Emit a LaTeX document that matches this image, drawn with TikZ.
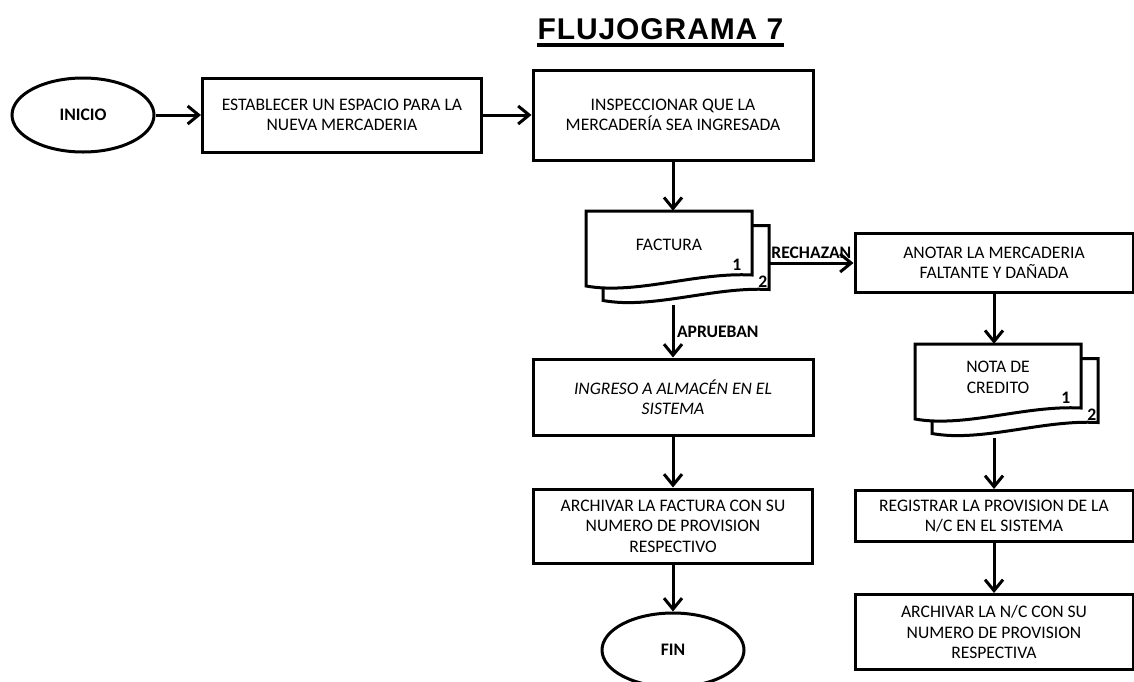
\documentclass[tikz,border=0pt]{standalone}
\usepackage{fontspec}
\setmainfont{Carlito}
\newfontfamily\arial[LetterSpace=3]{Liberation Sans}
\usetikzlibrary{arrows.meta,shapes.geometric,positioning}
\newcommand{\texto}{\fontsize{17.6}{20.5}\selectfont}
\tikzstyle{caja}=[draw, line width=3pt, align=center, font=\texto,
  inner sep=3pt]
\tikzstyle{terminal}=[caja, ellipse, minimum width=142pt,
  minimum height=74pt, font=\texto\bfseries]
\tikzstyle{hoja}=[draw, line width=3pt, fill=white, line join=miter]
\tikzstyle{linea}=[draw, line width=3pt,
  -{Straight Barb[length=11pt,width=18pt]}]
\tikzstyle{etiqueta}=[font=\texto\bfseries, inner sep=2.5pt]
\tikzstyle{num}=[font=\texto\bfseries, inner sep=0pt]
\newcommand{\paso}[4]{node (#1) [caja, minimum width=#2pt,
  minimum height=#3pt] {#4}}
% contorno de una hoja con borde ondulado
\newcommand{\pagina}{(0,0) -- (166,0) -- (166,-64)
  .. controls (110,-61) and (50,-84) .. (0,-75) -- cycle}
\newcommand{\documento}[3]{%
  \begin{scope}[shift={#2}]
    % hoja de atras
    \path[hoja, shift={(17,-14.5)}] \pagina;
    % hoja de adelante
    \path[hoja] \pagina;
  \end{scope}
  \path #2+(83,-37.5) node (#1) [minimum width=166pt,
    minimum height=75pt, inner sep=0pt] {};
  \path (#1.center)+(0,4) node (#1-t) [font=\texto, align=center] {#3};
  \path (#1.north east)+(-15.5,-54) node (#1-1) [num] {1};
  \path (#1.north east)+(10.5,-70.5) node (#1-2) [num] {2};
  \coordinate (#1-e) at ([xshift=17pt]#1.east);
  \coordinate (#1-s) at ([shift={(17pt,-19pt)}]#1.south west);}

\begin{document}
\begin{tikzpicture}[x=1pt,y=1pt]
  \useasboundingbox (0,0) rectangle (1134,-681);

  % titulo
  \path (660.5,-39) node (titulo) [anchor=base, inner sep=0pt,
    font=\arial\bfseries\fontsize{30}{30}\selectfont] {FLUJOGRAMA 7};
  \draw[line width=4pt] ([yshift=-6pt]titulo.base west) --
    ([yshift=-6pt]titulo.base east);

  % fila superior
  \path (83,-115) node (inicio) [terminal] {INICIO};
  \path (342,-115) \paso{b1}{279}{74}{ESTABLECER UN ESPACIO PARA LA\\
    NUEVA MERCADERIA};
  \path (673,-115) \paso{b2}{280}{90}{INSPECCIONAR QUE LA\\
    MERCADERÍA SEA INGRESADA};

  % columna izquierda
  \documento{fac}{(586,-211)}{FACTURA}
  \path (b2.center)+(0,-282) \paso{ingreso}{280}{76}{\itshape INGRESO A
    ALMACÉN EN EL\\ \itshape SISTEMA};
  \path (ingreso.center)+(0,-129) \paso{archf}{279}{74}{ARCHIVAR LA FACTURA
    CON SU\\ NUMERO DE PROVISION\\ RESPECTIVO};
  \path (archf.center)+(0,-124) node (fin) [terminal] {FIN};

  % columna derecha
  \path (994,-263) \paso{anotar}{278}{59}{ANOTAR LA MERCADERIA\\
    FALTANTE Y DAÑADA};
  \documento{nota}{(915,-344)}{NOTA DE\\ CREDITO}
  \path (anotar.center)+(0,-253) \paso{registrar}{278}{51}{REGISTRAR LA
    PROVISION DE LA\\ N/C EN EL SISTEMA};
  \path (registrar.center)+(0,-116) \paso{archnc}{278}{75}{ARCHIVAR LA N/C
    CON SU\\ NUMERO DE PROVISION\\ RESPECTIVA};

  % flechas
  \path [linea] (inicio) -- (b1);
  \path [linea] (b1) -- (b2);
  \path [linea] (b2.south) -- (b2.south |- fac.north);
  \path [linea] (fac-e |- anotar.west) -- node [etiqueta, above]
    {RECHAZAN} (anotar.west);
  \path [linea] (ingreso.north |- fac-s) -- node [etiqueta, right]
    {APRUEBAN} (ingreso.north);
  \path [linea] (ingreso) -- (archf);
  \path [linea] (archf) -- (fin);
  \path [linea] (anotar.south) -- (anotar.south |- nota.north);
  \path [linea] (registrar.north |- nota-s) -- (registrar.north);
  \path [linea] (registrar) -- (archnc);
\end{tikzpicture}
\end{document}
